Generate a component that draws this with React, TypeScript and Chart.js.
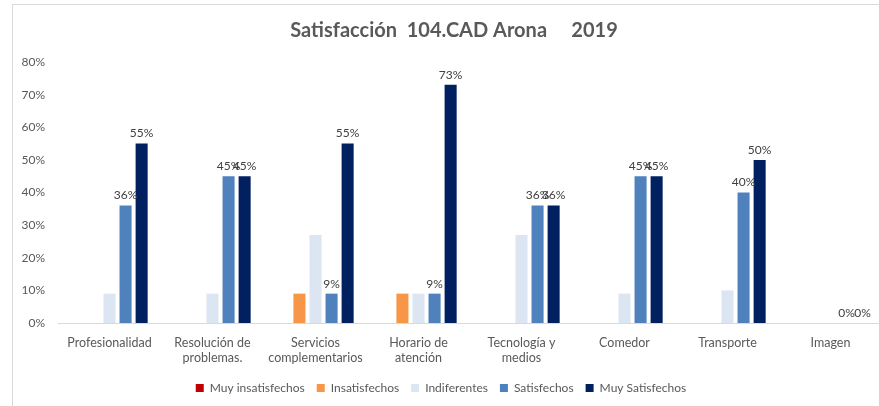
import React, { useEffect, useRef } from "react";
import { Chart, registerables } from "chart.js";

Chart.register(...registerables);

const categories: (string | string[])[] = [
  "Profesionalidad",
  ["Resolución de", "problemas."],
  ["Servicios", "complementarios"],
  ["Horario de", "atención"],
  ["Tecnología y", "medios"],
  "Comedor",
  "Transporte",
  "Imagen",
];

const muyInsatisfechos = [0, 0, 0, 0, 0, 0, 0, 0];
const insatisfechos = [0, 0, 9, 9, 0, 0, 0, 0];
const indiferentes = [9, 9, 27, 9, 27, 9, 10, 0];
const satisfechos = [36, 45, 9, 9, 36, 45, 40, 0];
const muySatisfechos = [55, 45, 55, 73, 36, 45, 50, 0];

const yTicks = [0, 10, 20, 30, 40, 50, 60, 70, 80];

const TITLE = "Satisfacción  104.CAD Arona     2019";

const FONT = "Lato, 'Open Sans', sans-serif";
const TEXT = "#595959";

const labelPlugin = {
  id: "valueLabels",
  afterDatasetsDraw(chart: any) {
    const ctx = chart.ctx;
    ctx.save();
    ctx.font = `12px ${FONT}`;
    ctx.fillStyle = "#404040";
    ctx.textAlign = "center";
    ctx.textBaseline = "bottom";
    [3, 4].forEach((di) => {
      const meta = chart.getDatasetMeta(di);
      const data = chart.data.datasets[di].data as number[];
      meta.data.forEach((el: any, i: number) => {
        ctx.fillText(`${data[i]}%`, el.x, el.y - 4);
      });
    });
    ctx.restore();
  },
};

const titlePlugin = {
  id: "offsetTitle",
  afterDraw(chart: any) {
    const ctx = chart.ctx;
    ctx.save();
    ctx.font = `bold 20px ${FONT}`;
    ctx.fillStyle = TEXT;
    ctx.textAlign = "center";
    ctx.textBaseline = "middle";
    ctx.fillText(TITLE, 454, 31);
    ctx.restore();
  },
};

export default function App() {
  const ref = useRef<HTMLCanvasElement>(null);
  useEffect(() => {
    document.body.style.margin = "0";
    document.body.style.overflow = "hidden";
    const chart = new Chart(ref.current!, {
      type: "bar",
      data: {
        labels: categories,
        datasets: [
          { label: "Muy insatisfechos", data: muyInsatisfechos, backgroundColor: "#C00000" },
          { label: "Insatisfechos", data: insatisfechos, backgroundColor: "#F79646" },
          { label: "Indiferentes", data: indiferentes, backgroundColor: "#DCE6F2" },
          { label: "Satisfechos", data: satisfechos, backgroundColor: "#4F81BD" },
          { label: "Muy Satisfechos", data: muySatisfechos, backgroundColor: "#002060" },
        ],
      },
      options: {
        animation: false,
        responsive: false,
        maintainAspectRatio: false,
        datasets: { bar: { categoryPercentage: 0.78, barPercentage: 0.75 } },
        layout: { padding: { left: 0, right: 32, top: 62, bottom: 0 } },
        plugins: {
          title: { display: false },
          legend: {
            position: "bottom",
            labels: {
              boxWidth: 8,
              boxHeight: 8,
              padding: 12,
              color: TEXT,
              font: { family: FONT, size: 12 },
            },
          },
          tooltip: { enabled: false },
        },
        scales: {
          x: {
            grid: { display: false, drawTicks: false },
            border: { display: true, color: "#D9D9D9" },
            ticks: {
              color: TEXT,
              font: { family: FONT, size: 12.5 },
              padding: 12,
              maxRotation: 0,
              autoSkip: false,
            },
            afterFit: (s: any) => {
              s.height = 47;
            },
          },
          y: {
            min: 0,
            max: 80,
            grid: { display: false, drawTicks: false },
            border: { display: false },
            afterBuildTicks: (s: any) => {
              s.ticks = yTicks.map((v) => ({ value: v }));
            },
            ticks: {
              color: TEXT,
              font: { family: FONT, size: 12 },
              padding: 13,
              callback: (v: any) => `${v}%`,
            },
            afterFit: (s: any) => {
              s.width = 58;
            },
          },
        },
      },
      plugins: [labelPlugin, titlePlugin],
    });
    return () => chart.destroy();
  }, []);
  return (
    <div
      style={{
        position: "fixed",
        left: 0,
        top: 0,
        width: 879,
        height: 406,
        overflow: "hidden",
        background: "#fff",
      }}
    >
      <div
        style={{
          position: "absolute",
          left: 12,
          top: 4,
          width: 1000,
          height: 1000,
          borderLeft: "1px solid #D9D9D9",
          borderTop: "1px solid #D9D9D9",
        }}
      />
      <canvas
        ref={ref}
        width={914}
        height={404}
        style={{ position: "absolute", left: 0, top: 0, width: 914, height: 404 }}
      />
    </div>
  );
}
